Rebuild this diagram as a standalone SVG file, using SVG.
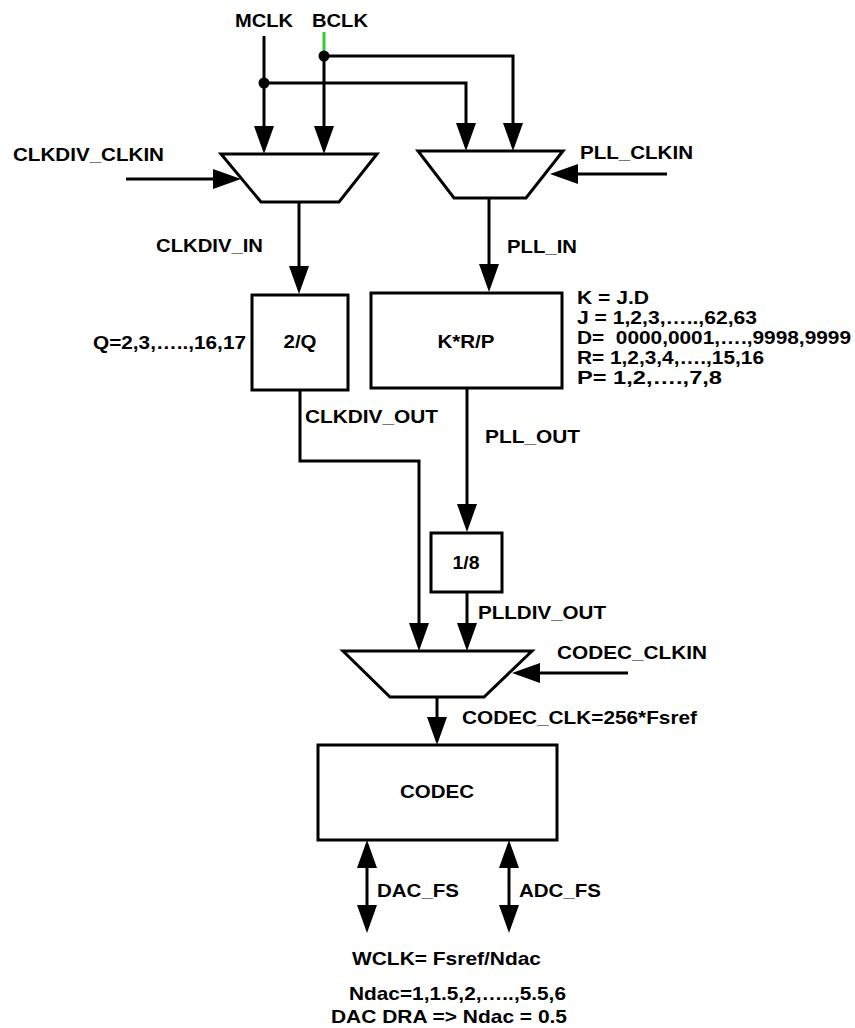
<svg xmlns="http://www.w3.org/2000/svg" width="855" height="1028" viewBox="0 0 855 1028">
<style>
text{font-family:"Liberation Sans",Arial,sans-serif;font-weight:bold;font-size:19px;fill:#000}
.c{text-anchor:middle}
.k{font-size:19px}
.ln{fill:none;stroke:#000;stroke-width:3}
.arr{fill:none;stroke:#000;stroke-width:3;marker-end:url(#ah)}
.bi{fill:none;stroke:#000;stroke-width:3;marker-end:url(#ah);marker-start:url(#ah)}
.shape{fill:#fff;stroke:#000;stroke-width:3}
</style>
<defs>
<marker id="ah" markerUnits="userSpaceOnUse" markerWidth="28" markerHeight="20" viewBox="0 0 28 20" refX="23" refY="10" orient="auto-start-reverse">
<path d="M0,0 L28,10 L0,20 z" fill="#000"/>
</marker>
</defs>
<rect width="855" height="1028" fill="#fff"/>
<g id="connectors">
<line x1="324" y1="32" x2="324" y2="52" stroke="#33cc33" stroke-width="3"/>
<path class="arr" d="M264,36 V149"/>
<path class="arr" d="M324,52 V149"/>
<path class="arr" d="M264,83 H466 V146"/>
<path class="arr" d="M324,56 H513 V146"/>
<circle cx="264" cy="83" r="5.5" fill="#000"/>
<circle cx="324" cy="56" r="5.5" fill="#000"/>
<path class="arr" d="M126,179 H236"/>
<path class="arr" d="M667,174 H555"/>
<path class="arr" d="M299,202 V289"/>
<path class="arr" d="M489,198 V287"/>
<path class="arr" d="M300,391 V461 H419 V646"/>
<path class="arr" d="M467,388 V527"/>
<path class="arr" d="M467,592 V646"/>
<path class="arr" d="M628,673 H517"/>
<path class="arr" d="M437,697 V740"/>
<path class="bi" d="M367,845 V928"/>
<path class="bi" d="M509,845 V928"/>
</g>
<g id="clkdiv_mux"><polygon class="shape" points="221,154 377,154 339,202 261,202"/></g>
<g id="pll_mux"><polygon class="shape" points="418,151 563,151 526,198 454,198"/></g>
<g id="codec_mux"><polygon class="shape" points="343,651 532,651 484,697 390,697"/></g>
<g id="div_q"><rect class="shape" x="252" y="295" width="96" height="95"/><text class="c" x="300" y="348" textLength="33" lengthAdjust="spacingAndGlyphs">2/Q</text></g>
<g id="pll"><rect class="shape" x="371" y="293" width="191" height="95"/><text class="c" x="466" y="348" textLength="57" lengthAdjust="spacingAndGlyphs">K*R/P</text></g>
<g id="div8"><rect class="shape" x="431" y="533" width="71" height="59"/><text class="c" x="466" y="569" textLength="27" lengthAdjust="spacingAndGlyphs">1/8</text></g>
<g id="codec"><rect class="shape" x="318" y="745" width="239" height="95"/><text class="c" x="437" y="798" textLength="74" lengthAdjust="spacingAndGlyphs">CODEC</text></g>
<g id="labels">
<text x="235" y="27" textLength="58" lengthAdjust="spacingAndGlyphs">MCLK</text>
<text x="312" y="27" textLength="56" lengthAdjust="spacingAndGlyphs">BCLK</text>
<text x="13" y="161" textLength="151" lengthAdjust="spacingAndGlyphs">CLKDIV_CLKIN</text>
<text x="156" y="252" textLength="107" lengthAdjust="spacingAndGlyphs">CLKDIV_IN</text>
<text x="580" y="159" textLength="113" lengthAdjust="spacingAndGlyphs">PLL_CLKIN</text>
<text x="507" y="253" textLength="70" lengthAdjust="spacingAndGlyphs">PLL_IN</text>
<text x="93" y="349" textLength="153" lengthAdjust="spacingAndGlyphs">Q=2,3,…..,16,17</text>
<text class="k" x="577" y="304" textLength="72" lengthAdjust="spacingAndGlyphs">K = J.D</text>
<text class="k" x="577" y="324" textLength="180" lengthAdjust="spacingAndGlyphs">J = 1,2,3,…..,62,63</text>
<text class="k" x="577" y="344" textLength="274" lengthAdjust="spacingAndGlyphs">D=&#160; 0000,0001,….,9998,9999</text>
<text class="k" x="577" y="364" textLength="187" lengthAdjust="spacingAndGlyphs">R= 1,2,3,4,….,15,16</text>
<text class="k" x="577" y="384" textLength="145" lengthAdjust="spacingAndGlyphs">P= 1,2,….,7,8</text>
<text x="305" y="423" textLength="133" lengthAdjust="spacingAndGlyphs">CLKDIV_OUT</text>
<text x="485" y="443" textLength="95" lengthAdjust="spacingAndGlyphs">PLL_OUT</text>
<text x="478" y="619" textLength="128" lengthAdjust="spacingAndGlyphs">PLLDIV_OUT</text>
<text x="557" y="659" textLength="150" lengthAdjust="spacingAndGlyphs">CODEC_CLKIN</text>
<text x="462" y="724" textLength="235" lengthAdjust="spacingAndGlyphs">CODEC_CLK=256*Fsref</text>
<text x="377" y="897" textLength="82" lengthAdjust="spacingAndGlyphs">DAC_FS</text>
<text x="519" y="897" textLength="82" lengthAdjust="spacingAndGlyphs">ADC_FS</text>
<text x="352" y="965" textLength="189" lengthAdjust="spacingAndGlyphs">WCLK= Fsref/Ndac</text>
<text x="349" y="1000" textLength="217" lengthAdjust="spacingAndGlyphs">Ndac=1,1.5,2,…..,5.5,6</text>
<text x="331" y="1023" textLength="236" lengthAdjust="spacingAndGlyphs">DAC DRA =&gt; Ndac = 0.5</text>
</g>
</svg>
